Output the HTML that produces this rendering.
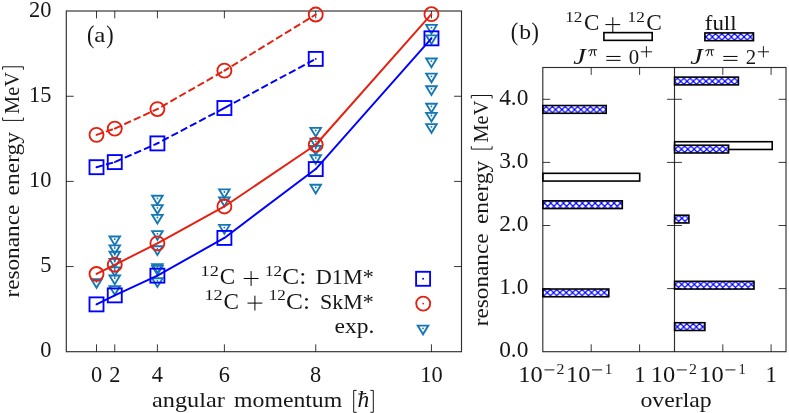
<!DOCTYPE html>
<html><head><meta charset="utf-8"><title>Resonance energies</title>
<style>html,body{margin:0;padding:0;background:#fff}body{width:789px;height:413px;overflow:hidden;font-family:"Liberation Serif",serif}</style>
</head><body>
<svg width="789" height="413" viewBox="0 0 789 413" style="display:block;will-change:transform">
<g stroke="#000" stroke-width="1.15" fill="none" stroke-opacity="0.82">
<rect x="66.3" y="11.0" width="395.2" height="340.7"/>
</g>
<path d="M96.50 351.7v-7.4M96.50 11.0v7.4M114.77 351.7v-7.4M114.77 11.0v7.4M157.40 351.7v-7.4M157.40 11.0v7.4M224.39 351.7v-7.4M224.39 11.0v7.4M315.74 351.7v-7.4M315.74 11.0v7.4M431.45 351.7v-7.4M431.45 11.0v7.4M66.3 266.55h7.4M461.5 266.55h-7.4M66.3 181.40h7.4M461.5 181.40h-7.4M66.3 96.25h7.4M461.5 96.25h-7.4" stroke="#000" stroke-width="1.0" fill="none" stroke-opacity="0.78"/>
<path d="M96.50 287.85L91.20 279.10H101.80Z" fill="none" stroke="#1577b3" stroke-width="1.85"/>
<circle cx="96.50" cy="281.80" r="0.9" fill="#1577b3"/>
<path d="M114.77 245.25L109.47 236.50H120.07Z" fill="none" stroke="#1577b3" stroke-width="1.85"/>
<circle cx="114.77" cy="239.20" r="0.9" fill="#1577b3"/>
<path d="M114.77 254.05L109.47 245.30H120.07Z" fill="none" stroke="#1577b3" stroke-width="1.85"/>
<circle cx="114.77" cy="248.00" r="0.9" fill="#1577b3"/>
<path d="M114.77 260.45L109.47 251.70H120.07Z" fill="none" stroke="#1577b3" stroke-width="1.85"/>
<circle cx="114.77" cy="254.40" r="0.9" fill="#1577b3"/>
<path d="M114.77 267.65L109.47 258.90H120.07Z" fill="none" stroke="#1577b3" stroke-width="1.85"/>
<circle cx="114.77" cy="261.60" r="0.9" fill="#1577b3"/>
<path d="M114.77 276.05L109.47 267.30H120.07Z" fill="none" stroke="#1577b3" stroke-width="1.85"/>
<circle cx="114.77" cy="270.00" r="0.9" fill="#1577b3"/>
<path d="M114.77 284.25L109.47 275.50H120.07Z" fill="none" stroke="#1577b3" stroke-width="1.85"/>
<circle cx="114.77" cy="278.20" r="0.9" fill="#1577b3"/>
<path d="M114.77 294.85L109.47 286.10H120.07Z" fill="none" stroke="#1577b3" stroke-width="1.85"/>
<circle cx="114.77" cy="288.80" r="0.9" fill="#1577b3"/>
<path d="M157.40 204.45L152.10 195.70H162.70Z" fill="none" stroke="#1577b3" stroke-width="1.85"/>
<circle cx="157.40" cy="198.40" r="0.9" fill="#1577b3"/>
<path d="M157.40 213.85L152.10 205.10H162.70Z" fill="none" stroke="#1577b3" stroke-width="1.85"/>
<circle cx="157.40" cy="207.80" r="0.9" fill="#1577b3"/>
<path d="M157.40 223.55L152.10 214.80H162.70Z" fill="none" stroke="#1577b3" stroke-width="1.85"/>
<circle cx="157.40" cy="217.50" r="0.9" fill="#1577b3"/>
<path d="M157.40 239.85L152.10 231.10H162.70Z" fill="none" stroke="#1577b3" stroke-width="1.85"/>
<circle cx="157.40" cy="233.80" r="0.9" fill="#1577b3"/>
<path d="M157.40 254.95L152.10 246.20H162.70Z" fill="none" stroke="#1577b3" stroke-width="1.85"/>
<circle cx="157.40" cy="248.90" r="0.9" fill="#1577b3"/>
<path d="M157.40 272.95L152.10 264.20H162.70Z" fill="none" stroke="#1577b3" stroke-width="1.85"/>
<circle cx="157.40" cy="266.90" r="0.9" fill="#1577b3"/>
<path d="M157.40 274.65L152.10 265.90H162.70Z" fill="none" stroke="#1577b3" stroke-width="1.85"/>
<circle cx="157.40" cy="268.60" r="0.9" fill="#1577b3"/>
<path d="M157.40 286.95L152.10 278.20H162.70Z" fill="none" stroke="#1577b3" stroke-width="1.85"/>
<circle cx="157.40" cy="280.90" r="0.9" fill="#1577b3"/>
<path d="M224.39 198.05L219.09 189.30H229.69Z" fill="none" stroke="#1577b3" stroke-width="1.85"/>
<circle cx="224.39" cy="192.00" r="0.9" fill="#1577b3"/>
<path d="M224.39 206.25L219.09 197.50H229.69Z" fill="none" stroke="#1577b3" stroke-width="1.85"/>
<circle cx="224.39" cy="200.20" r="0.9" fill="#1577b3"/>
<path d="M224.39 233.65L219.09 224.90H229.69Z" fill="none" stroke="#1577b3" stroke-width="1.85"/>
<circle cx="224.39" cy="227.60" r="0.9" fill="#1577b3"/>
<path d="M315.74 136.55L310.44 127.80H321.04Z" fill="none" stroke="#1577b3" stroke-width="1.85"/>
<circle cx="315.74" cy="130.50" r="0.9" fill="#1577b3"/>
<path d="M315.74 147.45L310.44 138.70H321.04Z" fill="none" stroke="#1577b3" stroke-width="1.85"/>
<circle cx="315.74" cy="141.40" r="0.9" fill="#1577b3"/>
<path d="M315.74 154.65L310.44 145.90H321.04Z" fill="none" stroke="#1577b3" stroke-width="1.85"/>
<circle cx="315.74" cy="148.60" r="0.9" fill="#1577b3"/>
<path d="M315.74 163.95L310.44 155.20H321.04Z" fill="none" stroke="#1577b3" stroke-width="1.85"/>
<circle cx="315.74" cy="157.90" r="0.9" fill="#1577b3"/>
<path d="M315.74 193.45L310.44 184.70H321.04Z" fill="none" stroke="#1577b3" stroke-width="1.85"/>
<circle cx="315.74" cy="187.40" r="0.9" fill="#1577b3"/>
<path d="M431.45 33.65L426.15 24.90H436.75Z" fill="none" stroke="#1577b3" stroke-width="1.85"/>
<circle cx="431.45" cy="27.60" r="0.9" fill="#1577b3"/>
<path d="M431.45 44.05L426.15 35.30H436.75Z" fill="none" stroke="#1577b3" stroke-width="1.85"/>
<circle cx="431.45" cy="38.00" r="0.9" fill="#1577b3"/>
<path d="M431.45 67.25L426.15 58.50H436.75Z" fill="none" stroke="#1577b3" stroke-width="1.85"/>
<circle cx="431.45" cy="61.20" r="0.9" fill="#1577b3"/>
<path d="M431.45 82.35L426.15 73.60H436.75Z" fill="none" stroke="#1577b3" stroke-width="1.85"/>
<circle cx="431.45" cy="76.30" r="0.9" fill="#1577b3"/>
<path d="M431.45 94.95L426.15 86.20H436.75Z" fill="none" stroke="#1577b3" stroke-width="1.85"/>
<circle cx="431.45" cy="88.90" r="0.9" fill="#1577b3"/>
<path d="M431.45 112.45L426.15 103.70H436.75Z" fill="none" stroke="#1577b3" stroke-width="1.85"/>
<circle cx="431.45" cy="106.40" r="0.9" fill="#1577b3"/>
<path d="M431.45 121.55L426.15 112.80H436.75Z" fill="none" stroke="#1577b3" stroke-width="1.85"/>
<circle cx="431.45" cy="115.50" r="0.9" fill="#1577b3"/>
<path d="M431.45 132.85L426.15 124.10H436.75Z" fill="none" stroke="#1577b3" stroke-width="1.85"/>
<circle cx="431.45" cy="126.80" r="0.9" fill="#1577b3"/>
<polyline points="96.50,304.38 114.77,295.37 157.40,275.65 224.39,237.91 315.74,169.06 431.45,38.33" fill="none" stroke="#0000ff" stroke-width="1.95" stroke-linejoin="round"/>
<rect x="89.50" y="297.38" width="14.0" height="14.0" fill="none" stroke="#0000ff" stroke-width="1.85"/>
<circle cx="96.50" cy="304.38" r="0.95" fill="#0000ff"/>
<rect x="107.77" y="288.37" width="14.0" height="14.0" fill="none" stroke="#0000ff" stroke-width="1.85"/>
<circle cx="114.77" cy="295.37" r="0.95" fill="#0000ff"/>
<rect x="150.40" y="268.65" width="14.0" height="14.0" fill="none" stroke="#0000ff" stroke-width="1.85"/>
<circle cx="157.40" cy="275.65" r="0.95" fill="#0000ff"/>
<rect x="217.39" y="230.91" width="14.0" height="14.0" fill="none" stroke="#0000ff" stroke-width="1.85"/>
<circle cx="224.39" cy="237.91" r="0.95" fill="#0000ff"/>
<rect x="308.74" y="162.06" width="14.0" height="14.0" fill="none" stroke="#0000ff" stroke-width="1.85"/>
<circle cx="315.74" cy="169.06" r="0.95" fill="#0000ff"/>
<rect x="424.45" y="31.33" width="14.0" height="14.0" fill="none" stroke="#0000ff" stroke-width="1.85"/>
<circle cx="431.45" cy="38.33" r="0.95" fill="#0000ff"/>
<polyline points="96.50,273.95 114.77,264.77 157.40,243.35 224.39,206.46 315.74,144.75 431.45,14.19" fill="none" stroke="#e5200f" stroke-width="1.95" stroke-linejoin="round"/>
<circle cx="96.50" cy="273.95" r="7.0" fill="none" stroke="#e5200f" stroke-width="1.85"/>
<circle cx="96.50" cy="273.95" r="0.95" fill="#e5200f"/>
<circle cx="114.77" cy="264.77" r="7.0" fill="none" stroke="#e5200f" stroke-width="1.85"/>
<circle cx="114.77" cy="264.77" r="0.95" fill="#e5200f"/>
<circle cx="157.40" cy="243.35" r="7.0" fill="none" stroke="#e5200f" stroke-width="1.85"/>
<circle cx="157.40" cy="243.35" r="0.95" fill="#e5200f"/>
<circle cx="224.39" cy="206.46" r="7.0" fill="none" stroke="#e5200f" stroke-width="1.85"/>
<circle cx="224.39" cy="206.46" r="0.95" fill="#e5200f"/>
<circle cx="315.74" cy="144.75" r="7.0" fill="none" stroke="#e5200f" stroke-width="1.85"/>
<circle cx="315.74" cy="144.75" r="0.95" fill="#e5200f"/>
<circle cx="431.45" cy="14.19" r="7.0" fill="none" stroke="#e5200f" stroke-width="1.85"/>
<circle cx="431.45" cy="14.19" r="0.95" fill="#e5200f"/>
<path d="M96.50 167.19L114.77 162.09" fill="none" stroke="#0000ff" stroke-width="1.95" stroke-dasharray="7.35 3.1" stroke-dashoffset="0.6"/>
<path d="M114.77 162.09L157.40 143.39" fill="none" stroke="#0000ff" stroke-width="1.95" stroke-dasharray="7.35 3.1" stroke-dashoffset="-0.5"/>
<path d="M157.40 143.39L224.39 108.03" fill="none" stroke="#0000ff" stroke-width="1.95" stroke-dasharray="7.35 3.1" stroke-dashoffset="5.0"/>
<path d="M224.39 108.03L315.74 58.90" fill="none" stroke="#0000ff" stroke-width="1.95" stroke-dasharray="7.35 3.1" stroke-dashoffset="-0.24"/>
<rect x="89.50" y="160.19" width="14.0" height="14.0" fill="none" stroke="#0000ff" stroke-width="1.85"/>
<circle cx="96.50" cy="167.19" r="0.95" fill="#0000ff"/>
<rect x="107.77" y="155.09" width="14.0" height="14.0" fill="none" stroke="#0000ff" stroke-width="1.85"/>
<circle cx="114.77" cy="162.09" r="0.95" fill="#0000ff"/>
<rect x="150.40" y="136.39" width="14.0" height="14.0" fill="none" stroke="#0000ff" stroke-width="1.85"/>
<circle cx="157.40" cy="143.39" r="0.95" fill="#0000ff"/>
<rect x="217.39" y="101.03" width="14.0" height="14.0" fill="none" stroke="#0000ff" stroke-width="1.85"/>
<circle cx="224.39" cy="108.03" r="0.95" fill="#0000ff"/>
<rect x="308.74" y="51.90" width="14.0" height="14.0" fill="none" stroke="#0000ff" stroke-width="1.85"/>
<circle cx="315.74" cy="58.90" r="0.95" fill="#0000ff"/>
<path d="M96.50 134.89L114.77 128.60" fill="none" stroke="#e5200f" stroke-width="1.95" stroke-dasharray="7.35 3.1" stroke-dashoffset="0.5"/>
<path d="M114.77 128.60L157.40 109.05" fill="none" stroke="#e5200f" stroke-width="1.95" stroke-dasharray="7.35 3.1" stroke-dashoffset="0"/>
<path d="M157.40 109.05L224.39 70.63" fill="none" stroke="#e5200f" stroke-width="1.95" stroke-dasharray="7.35 3.1" stroke-dashoffset="5.95"/>
<path d="M224.39 70.63L315.74 14.53" fill="none" stroke="#e5200f" stroke-width="1.95" stroke-dasharray="7.35 3.1" stroke-dashoffset="2.0"/>
<circle cx="96.50" cy="134.89" r="7.0" fill="none" stroke="#e5200f" stroke-width="1.85"/>
<circle cx="96.50" cy="134.89" r="0.95" fill="#e5200f"/>
<circle cx="114.77" cy="128.60" r="7.0" fill="none" stroke="#e5200f" stroke-width="1.85"/>
<circle cx="114.77" cy="128.60" r="0.95" fill="#e5200f"/>
<circle cx="157.40" cy="109.05" r="7.0" fill="none" stroke="#e5200f" stroke-width="1.85"/>
<circle cx="157.40" cy="109.05" r="0.95" fill="#e5200f"/>
<circle cx="224.39" cy="70.63" r="7.0" fill="none" stroke="#e5200f" stroke-width="1.85"/>
<circle cx="224.39" cy="70.63" r="0.95" fill="#e5200f"/>
<circle cx="315.74" cy="14.53" r="7.0" fill="none" stroke="#e5200f" stroke-width="1.85"/>
<circle cx="315.74" cy="14.53" r="0.95" fill="#e5200f"/>
<rect x="416.10" y="271.80" width="14.0" height="14.0" fill="none" stroke="#0000ff" stroke-width="1.85"/>
<circle cx="423.10" cy="278.80" r="0.95" fill="#0000ff"/>
<circle cx="423.20" cy="303.60" r="7.0" fill="none" stroke="#e5200f" stroke-width="1.85"/>
<circle cx="423.20" cy="303.60" r="0.95" fill="#e5200f"/>
<path d="M423.00 334.35L417.70 325.60H428.30Z" fill="none" stroke="#1577b3" stroke-width="1.85"/>
<circle cx="423.00" cy="328.30" r="0.9" fill="#1577b3"/>
<g font-family="Liberation Serif, serif" fill="#161616">
<text x="51.4" y="357.2" font-size="22.8" text-anchor="end" textLength="11.2" lengthAdjust="spacingAndGlyphs">0</text>
<text x="51.4" y="272.0" font-size="22.8" text-anchor="end" textLength="11.2" lengthAdjust="spacingAndGlyphs">5</text>
<text x="51.4" y="186.9" font-size="22.8" text-anchor="end" textLength="22.4" lengthAdjust="spacingAndGlyphs">10</text>
<text x="51.4" y="101.7" font-size="22.8" text-anchor="end" textLength="22.4" lengthAdjust="spacingAndGlyphs">15</text>
<text x="51.4" y="16.6" font-size="22.8" text-anchor="end" textLength="22.4" lengthAdjust="spacingAndGlyphs">20</text>
<text x="96.5" y="381.9" font-size="22.8" text-anchor="middle" textLength="11.2" lengthAdjust="spacingAndGlyphs">0</text>
<text x="114.8" y="381.9" font-size="22.8" text-anchor="middle" textLength="11.2" lengthAdjust="spacingAndGlyphs">2</text>
<text x="157.4" y="381.9" font-size="22.8" text-anchor="middle" textLength="11.2" lengthAdjust="spacingAndGlyphs">4</text>
<text x="224.4" y="381.9" font-size="22.8" text-anchor="middle" textLength="11.2" lengthAdjust="spacingAndGlyphs">6</text>
<text x="315.7" y="381.9" font-size="22.8" text-anchor="middle" textLength="11.2" lengthAdjust="spacingAndGlyphs">8</text>
<text x="431.4" y="381.9" font-size="22.8" text-anchor="middle" textLength="22.4" lengthAdjust="spacingAndGlyphs">10</text>
<text x="152" y="406.5" font-size="21.5" textLength="72.9" lengthAdjust="spacingAndGlyphs">angular</text>
<text x="234.1" y="406.5" font-size="21.5" textLength="108.1" lengthAdjust="spacingAndGlyphs">momentum</text>
<path d="M356.6 390.4H353.7V412.3H356.6M370.4 390.4H373.3V412.3H370.4" stroke="#161616" stroke-width="1.0" fill="none"/>
<text x="357.4" y="406.5" font-size="23.5" font-style="italic" textLength="11.8" lengthAdjust="spacingAndGlyphs">h</text>
<path d="M358.3 394.1L366.3 393.5" stroke="#161616" stroke-width="1.0" fill="none"/>
<text transform="translate(19.3 297.6) rotate(-90)" font-size="21.5" textLength="92.9" lengthAdjust="spacingAndGlyphs">resonance</text>
<text transform="translate(19.3 195.4) rotate(-90)" font-size="21.5" textLength="63.4" lengthAdjust="spacingAndGlyphs">energy</text>
<text transform="translate(19.3 113.9) rotate(-90)" font-size="21.5" textLength="42.0" lengthAdjust="spacingAndGlyphs">MeV</text>
<path d="M2.6 117.5V120.4H23.4V117.5M2.6 69.7V66.8H23.4V69.7" stroke="#161616" stroke-width="1.0" fill="none"/>
<text x="86.9" y="42.6" font-size="26" textLength="7.4" lengthAdjust="spacingAndGlyphs">(</text>
<text x="94.3" y="42.0" font-size="21.5" textLength="11.1" lengthAdjust="spacingAndGlyphs">a</text>
<text x="106.3" y="42.6" font-size="26" textLength="7.4" lengthAdjust="spacingAndGlyphs">)</text>
<text x="200.6" y="275.6" font-size="15.5" textLength="18.3" lengthAdjust="spacingAndGlyphs">12</text>
<text x="219.8" y="284.0" font-size="22.3" textLength="15.4" lengthAdjust="spacingAndGlyphs">C</text>
<path d="M243.70 278.50H258.50M251.10 271.10V285.90" stroke="#000" stroke-width="1.0" fill="none"/>
<text x="265.0" y="275.6" font-size="15.5" textLength="17.0" lengthAdjust="spacingAndGlyphs">12</text>
<text x="282.3" y="284.0" font-size="22.3" textLength="24.0" lengthAdjust="spacingAndGlyphs">C:</text>
<text x="315.8" y="284.0" font-size="21.5" textLength="58" lengthAdjust="spacingAndGlyphs">D1M*</text>
<text x="204.4" y="300.20000000000005" font-size="15.5" textLength="18.3" lengthAdjust="spacingAndGlyphs">12</text>
<text x="223.60000000000002" y="308.6" font-size="22.3" textLength="15.4" lengthAdjust="spacingAndGlyphs">C</text>
<path d="M247.50 303.10H262.30M254.90 295.70V310.50" stroke="#000" stroke-width="1.0" fill="none"/>
<text x="268.8" y="300.20000000000005" font-size="15.5" textLength="17.0" lengthAdjust="spacingAndGlyphs">12</text>
<text x="286.1" y="308.6" font-size="22.3" textLength="24.0" lengthAdjust="spacingAndGlyphs">C:</text>
<text x="319.9" y="308.6" font-size="21.5" textLength="53.9" lengthAdjust="spacingAndGlyphs">SkM*</text>
<text x="334.6" y="333.2" font-size="21.5" textLength="39.8" lengthAdjust="spacingAndGlyphs">exp.</text>
</g>
<rect x="542.90" y="173.32" width="96.80" height="7.75" fill="#fff" stroke="#000" stroke-width="1.6"/>
<defs><pattern id="xh1" width="6.33" height="6.33" patternUnits="userSpaceOnUse" patternTransform="translate(542.94 109.60)"><rect width="6.33" height="6.33" fill="#fff"/><path d="M-1 -1L7.33 7.33M-1 7.33L7.33 -1M-1 5.33L1 7.33M5.33 -1L7.33 1M-1 1L1 -1M5.33 7.33L7.33 5.33" stroke="#0000ff" stroke-width="1.2" fill="none"/></pattern></defs>
<rect x="542.90" y="105.53" width="63.30" height="7.75" fill="url(#xh1)" stroke="#000" stroke-width="1.6"/>
<defs><pattern id="xh2" width="6.33" height="6.33" patternUnits="userSpaceOnUse" patternTransform="translate(544.44 203.10)"><rect width="6.33" height="6.33" fill="#fff"/><path d="M-1 -1L7.33 7.33M-1 7.33L7.33 -1M-1 5.33L1 7.33M5.33 -1L7.33 1M-1 1L1 -1M5.33 7.33L7.33 5.33" stroke="#0000ff" stroke-width="1.2" fill="none"/></pattern></defs>
<rect x="542.90" y="200.82" width="79.40" height="7.75" fill="url(#xh2)" stroke="#000" stroke-width="1.6"/>
<defs><pattern id="xh3" width="6.33" height="6.33" patternUnits="userSpaceOnUse" patternTransform="translate(547.24 292.60)"><rect width="6.33" height="6.33" fill="#fff"/><path d="M-1 -1L7.33 7.33M-1 7.33L7.33 -1M-1 5.33L1 7.33M5.33 -1L7.33 1M-1 1L1 -1M5.33 7.33L7.33 5.33" stroke="#0000ff" stroke-width="1.2" fill="none"/></pattern></defs>
<rect x="542.90" y="289.02" width="65.90" height="7.75" fill="url(#xh3)" stroke="#000" stroke-width="1.6"/>
<rect x="674.60" y="141.72" width="97.60" height="7.75" fill="#fff" stroke="#000" stroke-width="1.6"/>
<defs><pattern id="xh4" width="6.33" height="6.33" patternUnits="userSpaceOnUse" patternTransform="translate(674.34 81.30)"><rect width="6.33" height="6.33" fill="#fff"/><path d="M-1 -1L7.33 7.33M-1 7.33L7.33 -1M-1 5.33L1 7.33M5.33 -1L7.33 1M-1 1L1 -1M5.33 7.33L7.33 5.33" stroke="#0000ff" stroke-width="1.2" fill="none"/></pattern></defs>
<rect x="674.60" y="77.12" width="63.80" height="7.75" fill="url(#xh4)" stroke="#000" stroke-width="1.6"/>
<defs><pattern id="xh5" width="6.33" height="6.33" patternUnits="userSpaceOnUse" patternTransform="translate(675.13 149.20)"><rect width="6.33" height="6.33" fill="#fff"/><path d="M-1 -1L7.33 7.33M-1 7.33L7.33 -1M-1 5.33L1 7.33M5.33 -1L7.33 1M-1 1L1 -1M5.33 7.33L7.33 5.33" stroke="#0000ff" stroke-width="1.2" fill="none"/></pattern></defs>
<rect x="674.60" y="145.22" width="54.00" height="7.75" fill="url(#xh5)" stroke="#000" stroke-width="1.6"/>
<defs><pattern id="xh6" width="6.33" height="6.33" patternUnits="userSpaceOnUse" patternTransform="translate(675.54 218.30)"><rect width="6.33" height="6.33" fill="#fff"/><path d="M-1 -1L7.33 7.33M-1 7.33L7.33 -1M-1 5.33L1 7.33M5.33 -1L7.33 1M-1 1L1 -1M5.33 7.33L7.33 5.33" stroke="#0000ff" stroke-width="1.2" fill="none"/></pattern></defs>
<rect x="674.60" y="215.22" width="14.30" height="7.75" fill="url(#xh6)" stroke="#000" stroke-width="1.6"/>
<defs><pattern id="xh7" width="6.33" height="6.33" patternUnits="userSpaceOnUse" patternTransform="translate(675.34 284.40)"><rect width="6.33" height="6.33" fill="#fff"/><path d="M-1 -1L7.33 7.33M-1 7.33L7.33 -1M-1 5.33L1 7.33M5.33 -1L7.33 1M-1 1L1 -1M5.33 7.33L7.33 5.33" stroke="#0000ff" stroke-width="1.2" fill="none"/></pattern></defs>
<rect x="674.60" y="281.32" width="79.40" height="7.75" fill="url(#xh7)" stroke="#000" stroke-width="1.6"/>
<defs><pattern id="xh8" width="6.33" height="6.33" patternUnits="userSpaceOnUse" patternTransform="translate(677.34 326.80)"><rect width="6.33" height="6.33" fill="#fff"/><path d="M-1 -1L7.33 7.33M-1 7.33L7.33 -1M-1 5.33L1 7.33M5.33 -1L7.33 1M-1 1L1 -1M5.33 7.33L7.33 5.33" stroke="#0000ff" stroke-width="1.2" fill="none"/></pattern></defs>
<rect x="674.60" y="322.73" width="30.30" height="7.75" fill="url(#xh8)" stroke="#000" stroke-width="1.6"/>
<rect x="603.90" y="32.62" width="48.30" height="7.75" fill="#fff" stroke="#000" stroke-width="1.6"/>
<defs><pattern id="xh9" width="6.33" height="6.33" patternUnits="userSpaceOnUse" patternTransform="translate(706.04 36.90)"><rect width="6.33" height="6.33" fill="#fff"/><path d="M-1 -1L7.33 7.33M-1 7.33L7.33 -1M-1 5.33L1 7.33M5.33 -1L7.33 1M-1 1L1 -1M5.33 7.33L7.33 5.33" stroke="#0000ff" stroke-width="1.2" fill="none"/></pattern></defs>
<rect x="704.90" y="32.92" width="48.60" height="7.75" fill="url(#xh9)" stroke="#000" stroke-width="1.6"/>
<g stroke="#000" stroke-width="1.15" fill="none" stroke-opacity="0.82">
<rect x="542.8" y="67.5" width="243.20000000000005" height="284.2"/>
<path d="M674.5 67.5V351.7"/>
</g>
<path d="M591.20 351.7v-7.4M591.20 67.5v7.4M639.60 351.7v-7.4M639.60 67.5v7.4M722.80 351.7v-7.4M722.80 67.5v7.4M771.10 351.7v-7.4M771.10 67.5v7.4M542.8 288.60h7.4M786.0 288.60h-7.4M667.1 288.60h14.8M542.8 225.50h7.4M786.0 225.50h-7.4M667.1 225.50h14.8M542.8 162.40h7.4M786.0 162.40h-7.4M667.1 162.40h14.8M542.8 99.30h7.4M786.0 99.30h-7.4M667.1 99.30h14.8" stroke="#000" stroke-width="1.0" fill="none" stroke-opacity="0.78"/>
<g font-family="Liberation Serif, serif" fill="#161616">
<text x="528.4" y="357.2" font-size="22.8" text-anchor="end" textLength="29.2" lengthAdjust="spacingAndGlyphs">0.0</text>
<text x="528.4" y="294.1" font-size="22.8" text-anchor="end" textLength="29.2" lengthAdjust="spacingAndGlyphs">1.0</text>
<text x="528.4" y="231.0" font-size="22.8" text-anchor="end" textLength="29.2" lengthAdjust="spacingAndGlyphs">2.0</text>
<text x="528.4" y="167.9" font-size="22.8" text-anchor="end" textLength="29.2" lengthAdjust="spacingAndGlyphs">3.0</text>
<text x="528.4" y="104.8" font-size="22.8" text-anchor="end" textLength="29.2" lengthAdjust="spacingAndGlyphs">4.0</text>
<text x="518.3000000000001" y="381.9" font-size="22.8" textLength="24.4" lengthAdjust="spacingAndGlyphs">10</text>
<path d="M544.40 369.90H554.40" stroke="#000" stroke-width="0.9" fill="none"/>
<text x="556.6" y="373.7" font-size="15.5" textLength="7.9" lengthAdjust="spacingAndGlyphs">2</text>
<text x="566.0" y="381.9" font-size="22.8" textLength="24.4" lengthAdjust="spacingAndGlyphs">10</text>
<path d="M592.10 369.90H602.10" stroke="#000" stroke-width="0.9" fill="none"/>
<text x="605.1" y="373.7" font-size="15.5" textLength="7.2" lengthAdjust="spacingAndGlyphs">1</text>
<text x="640" y="381.9" font-size="22.8" text-anchor="middle" textLength="11.4" lengthAdjust="spacingAndGlyphs">1</text>
<text x="650.7" y="381.9" font-size="22.8" textLength="24.4" lengthAdjust="spacingAndGlyphs">10</text>
<path d="M676.80 369.90H686.80" stroke="#000" stroke-width="0.9" fill="none"/>
<text x="689.0" y="373.7" font-size="15.5" textLength="7.9" lengthAdjust="spacingAndGlyphs">2</text>
<text x="699.3000000000001" y="381.9" font-size="22.8" textLength="24.4" lengthAdjust="spacingAndGlyphs">10</text>
<path d="M725.40 369.90H735.40" stroke="#000" stroke-width="0.9" fill="none"/>
<text x="738.4000000000001" y="373.7" font-size="15.5" textLength="7.2" lengthAdjust="spacingAndGlyphs">1</text>
<text x="771.1" y="381.9" font-size="22.8" text-anchor="middle" textLength="11.4" lengthAdjust="spacingAndGlyphs">1</text>
<text x="640.5" y="406.7" font-size="21.5" textLength="71.2" lengthAdjust="spacingAndGlyphs">overlap</text>
<text transform="translate(488.0 326.3) rotate(-90)" font-size="21.5" textLength="92.9" lengthAdjust="spacingAndGlyphs">resonance</text>
<text transform="translate(488.0 224.1) rotate(-90)" font-size="21.5" textLength="63.4" lengthAdjust="spacingAndGlyphs">energy</text>
<text transform="translate(488.0 142.6) rotate(-90)" font-size="21.5" textLength="42.0" lengthAdjust="spacingAndGlyphs">MeV</text>
<path d="M471.3 146.2V149.1H492.1V146.2M471.3 98.4V95.5H492.1V98.4" stroke="#161616" stroke-width="1.0" fill="none"/>
<text x="510.7" y="39.7" font-size="26" textLength="7.4" lengthAdjust="spacingAndGlyphs">(</text>
<text x="519.2" y="39.1" font-size="21.5" textLength="11.8" lengthAdjust="spacingAndGlyphs">b</text>
<text x="531.4" y="39.7" font-size="26" textLength="7.4" lengthAdjust="spacingAndGlyphs">)</text>
<text x="565.2" y="21.5" font-size="15.5" textLength="17.2" lengthAdjust="spacingAndGlyphs">12</text>
<text x="583.9" y="30.2" font-size="22.3" textLength="15.4" lengthAdjust="spacingAndGlyphs">C</text>
<path d="M605.40 24.60H620.20M612.80 17.20V32.00" stroke="#000" stroke-width="1.0" fill="none"/>
<text x="627.6" y="21.5" font-size="15.5" textLength="17.2" lengthAdjust="spacingAndGlyphs">12</text>
<text x="646.2" y="30.2" font-size="22.3" textLength="15.6" lengthAdjust="spacingAndGlyphs">C</text>
<text x="704.8" y="30.0" font-size="21.5" textLength="31.8" lengthAdjust="spacingAndGlyphs">full</text>
<text x="573.1999999999999" y="63.6" font-size="23" textLength="12.6" lengthAdjust="spacingAndGlyphs" font-style="italic">J</text>
<path d="M588.60 51.00q0.9 -1.3 2.2 -1.3H596.80M591.90 49.80C591.80 52.50 591.10 54.30 590.10 55.60M594.50 49.80C594.20 52.50 594.30 54.50 595.20 55.60" stroke="#161616" stroke-width="1.05" fill="none" stroke-linecap="round"/>
<path d="M606.30 56.45H620.50M606.30 60.35H620.50" stroke="#000" stroke-width="1.0" fill="none"/>
<text x="628.6999999999999" y="63.6" font-size="22" textLength="10.4" lengthAdjust="spacingAndGlyphs">0</text>
<path d="M640.80 51.80H652.00M646.40 46.20V57.40" stroke="#000" stroke-width="0.9" fill="none"/>
<text x="690.1999999999999" y="63.6" font-size="23" textLength="12.6" lengthAdjust="spacingAndGlyphs" font-style="italic">J</text>
<path d="M705.60 51.00q0.9 -1.3 2.2 -1.3H713.80M708.90 49.80C708.80 52.50 708.10 54.30 707.10 55.60M711.50 49.80C711.20 52.50 711.30 54.50 712.20 55.60" stroke="#161616" stroke-width="1.05" fill="none" stroke-linecap="round"/>
<path d="M723.30 56.45H737.50M723.30 60.35H737.50" stroke="#000" stroke-width="1.0" fill="none"/>
<text x="745.6999999999999" y="63.6" font-size="22" textLength="10.4" lengthAdjust="spacingAndGlyphs">2</text>
<path d="M757.80 51.80H769.00M763.40 46.20V57.40" stroke="#000" stroke-width="0.9" fill="none"/>
</g>
</svg>
</body></html>
